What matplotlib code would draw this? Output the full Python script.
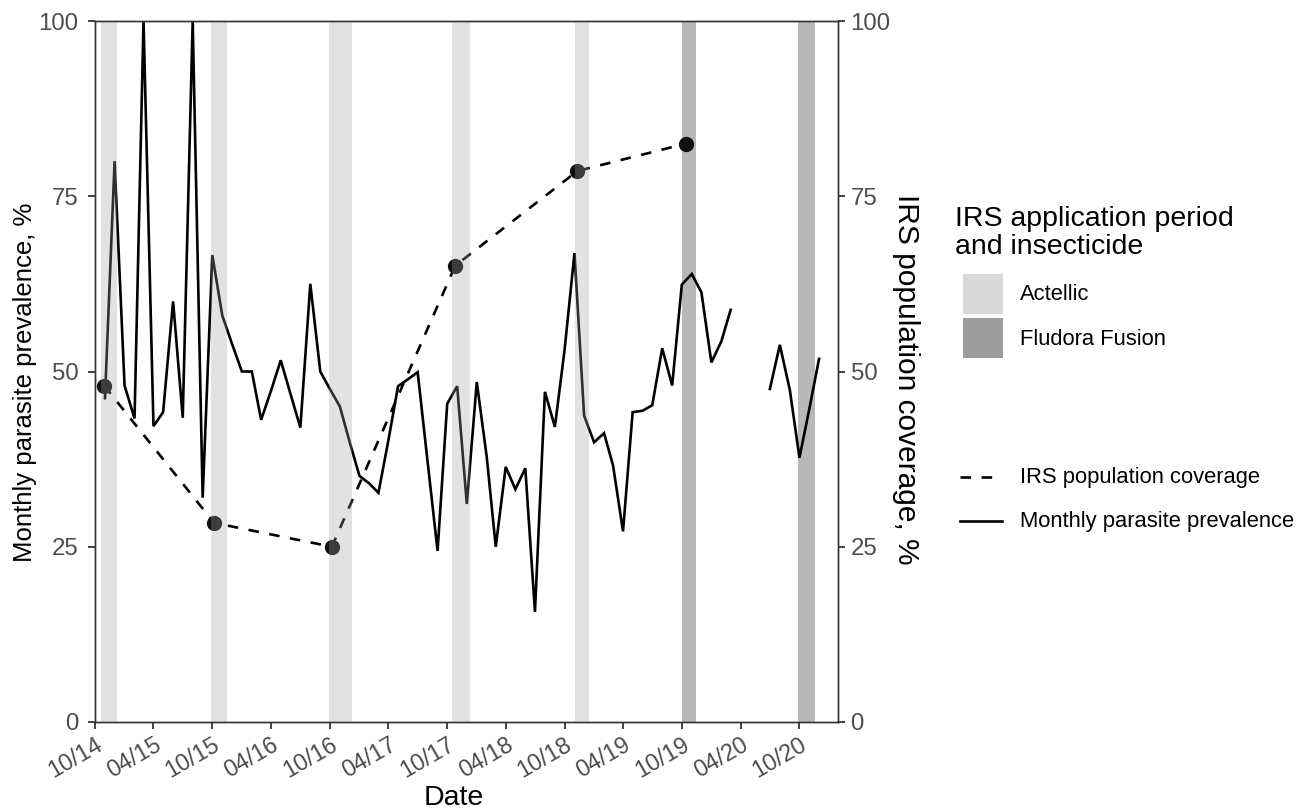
import datetime as dt
import numpy as np
import matplotlib
matplotlib.use("Agg")
import matplotlib.pyplot as plt
import matplotlib.dates as mdates
from matplotlib.patches import Rectangle
from matplotlib.lines import Line2D

plt.rcParams['font.family'] = ['Liberation Sans', 'DejaVu Sans']

# Monthly parasite prevalence (%), Nov 2014 - Dec 2020 (NaN = no survey)
prev_start = (2014, 11)
prevalence = [
    46.2, 80.0,
    48.0, 43.3, 100.0, 42.2, 44.2, 60.0, 43.4, 100.0, 32.0, 66.6, 58.0, 54.0,
    50.0, 50.0, 43.1, 47.3, 51.6, 46.7, 42.0, 62.5, 50.0, 47.5, 45.0, 40.0,
    35.1, 34.0, 32.7, 40.2, 47.9, 48.9, 49.9, 37.1, 24.4, 45.4, 47.9, 31.1,
    48.5, 37.8, 25.0, 36.4, 33.2, 36.2, 15.7, 47.1, 42.1, 53.0, 66.9, 43.7,
    39.9, 41.2, 36.6, 27.2, 44.2, 44.4, 45.2, 53.3, 48.0, 62.4, 63.9, 61.3,
    51.3, 54.3, 58.8, np.nan, np.nan, np.nan, 47.5, 53.8, 47.4, 37.7, 44.7, 51.8,
]

# IRS population coverage (%) per campaign
coverage_dates = ["2014-10-29", "2015-10-07", "2016-10-07",
                  "2017-10-26", "2018-11-10", "2019-10-13"]
coverage = [48.0, 28.4, 25.0, 65.1, 78.6, 82.5]

# IRS application periods and insecticide used
irs_start = ["2014-10-19", "2015-09-27", "2016-09-27", "2017-10-16",
             "2018-11-02", "2019-10-01", "2020-09-28"]
irs_end = ["2014-12-09", "2015-11-15", "2016-12-10", "2017-12-10",
           "2018-12-15", "2019-11-15", "2020-11-18"]
irs_insecticide = ["Actellic", "Actellic", "Actellic", "Actellic",
                   "Actellic", "Fludora Fusion", "Fludora Fusion"]

x_ticks = ["2014-10-01", "2015-04-01", "2015-10-01", "2016-04-01", "2016-10-01",
           "2017-04-01", "2017-10-01", "2018-04-01", "2018-10-01", "2019-04-01",
           "2019-10-01", "2020-04-01", "2020-10-01"]
y_ticks = [0, 25, 50, 75, 100]


def to_date(s):
    return dt.datetime.strptime(s, "%Y-%m-%d")


def month_seq(start, n):
    y, m = start
    out = []
    for _ in range(n):
        out.append(dt.datetime(y, m, 1))
        m += 1
        if m > 12:
            m = 1
            y += 1
    return out


prev_dates = month_seq(prev_start, len(prevalence))
cov_dates = [to_date(s) for s in coverage_dates]

W, H = 1300, 809
fig = plt.figure(figsize=(W / 100, H / 100), dpi=100)
ax = fig.add_axes([95 / W, 1 - 722 / H, (838 - 95) / W, (722 - 21) / H])

band_style = {
    "Actellic": dict(color="#a0a0a0", alpha=0.3, zorder=5),
    "Fludora Fusion": dict(color="#b8b8b8", alpha=1.0, zorder=0),
}
for s, e, ins in zip(irs_start, irs_end, irs_insecticide):
    st = band_style[ins]
    ax.axvspan(to_date(s), to_date(e), lw=0, **st)

lw = 1.9
dash = (0, (4.0, 4.0))
ax.plot(prev_dates, prevalence, color="black", lw=lw, zorder=2,
        solid_joinstyle="miter")
ax.plot(cov_dates, coverage, color="black", lw=lw, ls=dash, zorder=2)
ax.plot(cov_dates, coverage, "o", color="#111111", ms=10, zorder=3)

ax.set_xlim(dt.datetime(2014, 10, 1), dt.datetime(2021, 1, 29))
ax.set_ylim(0, 100)

ax.set_xticks([to_date(s) for s in x_ticks])
ax.xaxis.set_major_formatter(mdates.DateFormatter("%m/%y"))
ax.set_yticks(y_ticks)

ax2 = ax.twinx()
ax2.set_ylim(0, 100)
ax2.set_yticks(y_ticks)

for a in (ax, ax2):
    for sp in a.spines.values():
        sp.set_color("#333333")
        sp.set_linewidth(1.0)
    a.tick_params(axis="both", length=5, width=1.3, color="#333333",
                  labelcolor="#4d4d4d", labelsize=17.3)
ax.tick_params(axis="y", pad=7)
ax.tick_params(axis="x", pad=3, labelsize=16.8)
ax2.tick_params(axis="y", pad=4)

for lab in ax.get_xticklabels():
    lab.set_rotation(30)
    lab.set_ha("right")
    lab.set_va("top")
    lab.set_rotation_mode("anchor")

ax.set_xlabel("Date", fontsize=20.5, va="center")
ax.xaxis.set_label_coords((454 - 95) / 743, (722 - 798) / 701)
ax.set_ylabel("Monthly parasite prevalence, %", fontsize=18.5, va="center")
ax.yaxis.set_label_coords((25 - 95) / 743, (722 - 382) / 701)
ax2.set_ylabel("IRS population coverage, %", fontsize=21.5, rotation=-90,
               va="center")
ax2.yaxis.set_label_coords((906 - 95) / 743, (722 - 379) / 701)

# Legend: IRS application period
def fx(px):
    return px / W


def fy(py):
    return 1 - py / H


fig.text(fx(955), fy(233), "IRS application period\nand insecticide",
         fontsize=20.5, ha="left", va="center", linespacing=1.1)
key_fill = {"Actellic": "#d9d9d9", "Fludora Fusion": "#9c9c9c"}
for i, name in enumerate(["Actellic", "Fludora Fusion"]):
    top = 274 + i * 44
    fig.add_artist(Rectangle((fx(963), fy(top + 40)), fx(40), 40 / H,
                             facecolor=key_fill[name], edgecolor="none",
                             transform=fig.transFigure))
    fig.text(fx(1020), fy(top + 21), name, fontsize=15.8, ha="left",
             va="center")

# Legend: line types
for i, (name, ls) in enumerate([("IRS population coverage", dash),
                                ("Monthly parasite prevalence", "-")]):
    yy = 477 + i * 44
    fig.add_artist(Line2D([fx(960), fx(1002)], [fy(yy), fy(yy)], color="black",
                          lw=lw, ls=ls, transform=fig.transFigure))
    fig.text(fx(1020), fy(yy), name, fontsize=15.8, ha="left", va="center")

fig.savefig("out.png", dpi=100)
